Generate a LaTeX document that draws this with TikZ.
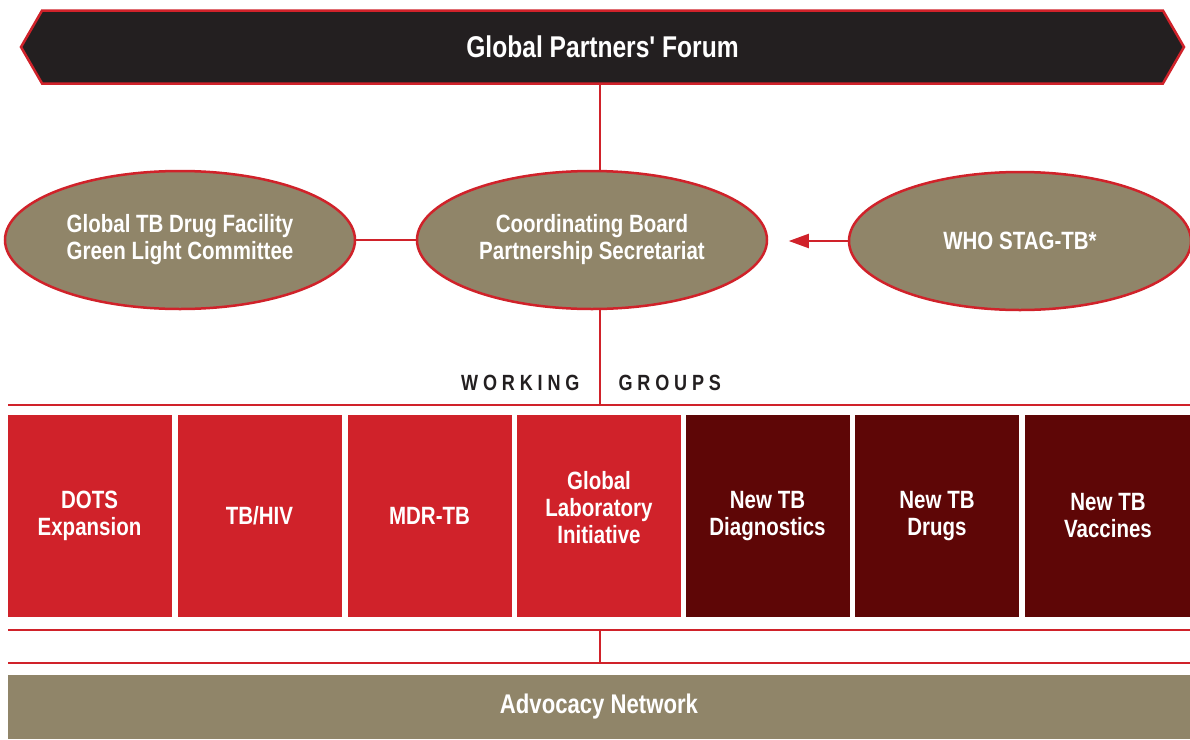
\documentclass[tikz,border=0pt]{standalone}
\usepackage{fontspec}
\newfontfamily\tbfont{Liberation Sans}[FakeStretch=0.82]
\usetikzlibrary{shapes.geometric,shapes.symbols,arrows.meta,backgrounds}

\definecolor{tbred}{HTML}{D0222A}
\definecolor{tbdark}{HTML}{5E0606}
\definecolor{tbtan}{HTML}{908569}
\definecolor{tbblack}{HTML}{231F20}

\tikzset{
	ovalbox/.style={ellipse, draw=tbred, line width=2.5pt, fill=tbtan,
		minimum width=350pt, minimum height=138pt, inner sep=0pt,
		text=white, align=center, font=\tbfont\bfseries\fontsize{25}{27}\selectfont},
	wgbox/.style={rectangle, fill=tbred, minimum width=164pt, minimum height=202pt,
		inner sep=0pt, text=white, align=center, font=\tbfont\bfseries\fontsize{25}{27}\selectfont},
	newbox/.style={wgbox, fill=tbdark},
	spaced/.style={text=tbblack, font=\tbfont\bfseries\fontsize{22}{24}\selectfont\addfontfeature{LetterSpace=22}},
	redline/.style={draw=tbred, line width=2.5pt},
}

\begin{document}
\begin{tikzpicture}[x=1pt, y=-1pt]
		\useasboundingbox (0,0) rectangle (1190,739);
		\node [signal, signal to=west and east, signal pointer angle=120,
			draw=tbred, line width=2.5pt, fill=tbblack, minimum width=1163pt,
			minimum height=73pt, inner sep=0pt, text=white,
			font=\tbfont\bfseries\fontsize{30}{32}\selectfont] (forum) at (602.5,47) {Global Partners' Forum};
		\node [ovalbox] (facility) at (180,240) {Global TB Drug Facility\\Green Light Committee};
		\node [ovalbox] (board) at (592,240) {Coordinating Board\\Partnership Secretariat};
		\node [ovalbox, minimum width=342pt] (stag) at (1020,241) {WHO STAG-TB*};
		\coordinate (spine) at (600,405);
		\node [spaced, anchor=east] (working) at (583,383) {WORKING};
		\node [spaced, anchor=west] (groups) at (615,383) {GROUPS};
		\node [wgbox] (dots) at (89.5,516) {DOTS\\Expansion};
		\node [wgbox] (hiv) at (259.5,516) {TB/HIV};
		\node [wgbox] (mdr) at (429.5,516) {MDR-TB};
		\node [wgbox] (gli) at (599,516) {Global\\Laboratory\\Initiative\rule{0pt}{0pt}\\[-10pt]};
		\node [newbox] (diag) at (767.5,516) {New TB\\Diagnostics};
		\node [newbox] (drugs) at (937,516) {New TB\\Drugs};
		\node [newbox, minimum width=166pt] (vacc) at (1108,516) {New TB\\Vaccines};
		\node [rectangle, fill=tbtan, minimum width=1182pt, minimum height=64pt, inner sep=0pt,
			text=white, font=\tbfont\bfseries\fontsize{27}{29}\selectfont] (advocacy) at (599,707) {Advocacy Network};
		\begin{scope}[on background layer]
			\draw [tbred, line width=2pt] (forum.south -| spine) -- (spine |- board.center);
			\draw [tbred, line width=2pt] (spine |- board.center) -- (spine);
		\end{scope}
		\draw [tbred, line width=2pt] (facility.east) -- (board.west);
		\draw [tbred, line width=2pt, -{Triangle[length=20pt, width=14pt]}] (stag.west) -- +(-59,0);
		\draw [redline] (8,405) -- (1190,405);
		\draw [redline] (8,630) -- (1190,630);
		\draw [redline] (8,663) -- (1190,663);
		\draw [tbred, line width=2pt] (600,630) -- (600,663);
	\end{tikzpicture}
\end{document}
